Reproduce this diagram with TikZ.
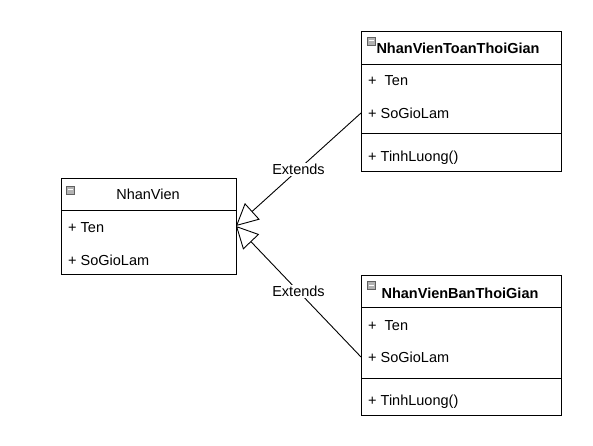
\documentclass[tikz,border=0pt]{standalone}
\usepackage{fontspec}
\setmainfont{Liberation Sans}
\usetikzlibrary{arrows.meta}

\tikzset{
  classbox/.style={draw, line width=0.9pt, anchor=north west, inner sep=0pt, outer sep=0pt},
  member/.style={anchor=west, inner sep=0pt, text height=10.5pt, text depth=0pt},
  title/.style={inner sep=0pt, text height=10.5pt, text depth=0pt},
  icon/.style={draw=gray!75!black, fill=gray!60, minimum size=8pt, inner sep=0pt,
    path picture={\draw[white, line width=1pt] ([xshift=1.5pt]path picture bounding box.west) -- ([xshift=-1.5pt]path picture bounding box.east);}},
  extends/.style={line width=0.9pt, -{Triangle[open, length=22pt, width=22pt]}},
  lbl/.style={fill=white, inner sep=1.5pt}
}

\begin{document}
\begin{tikzpicture}[x=1pt, y=-1pt, font=\fontsize{14.5}{17}\selectfont]
\useasboundingbox[fill=white] (0,0) rectangle (593,446);

% base class
\node[classbox, minimum width=175pt, minimum height=96pt] (nv) at (61,178) {};
\draw[line width=0.9pt] (61,210) -- (236,210);
\node[title] (nvName) at (148,194) {NhanVien};
\node[member] (nvTen) at (68,227) {+ Ten};
\node[member] (nvSo) at (68,260) {+ SoGioLam};

% full time
\node[classbox, minimum width=200pt, minimum height=140pt] (toan) at (361,31) {};
\draw[line width=0.9pt] (361,64) -- (561,64);
\draw[line width=0.9pt] (361,133) -- (561,133);
\node[title] (toanName) at (458,48) {\bfseries NhanVienToanThoiGian};
\node[member] (toanTen) at (368,80) {+\ \ Ten};
\node[member] (toanSo) at (368,113) {+ SoGioLam};
\node[member] (toanLuong) at (368,156) {+ TinhLuong()};

% part time
\node[classbox, minimum width=200pt, minimum height=140pt] (ban) at (361,275) {};
\draw[line width=0.9pt] (361,307) -- (561,307);
\draw[line width=0.9pt] (361,378) -- (561,378);
\node[title] (banName) at (460,293) {\bfseries NhanVienBanThoiGian};
\node[member] (banTen) at (368,325) {+\ \ Ten};
\node[member] (banSo) at (368,357) {+ SoGioLam};
\node[member] (banLuong) at (368,400) {+ TinhLuong()};

\foreach \p in {(70.5,190),(371,41),(371,285.5)}
  \node[icon] at \p {};

% inheritance
\draw[extends] (toan.west |- toanSo) -- node[lbl] {Extends} (nv.east);
\draw[extends] (ban.west |- banSo) -- node[lbl] {Extends} (nv.east);
\end{tikzpicture}
\end{document}
